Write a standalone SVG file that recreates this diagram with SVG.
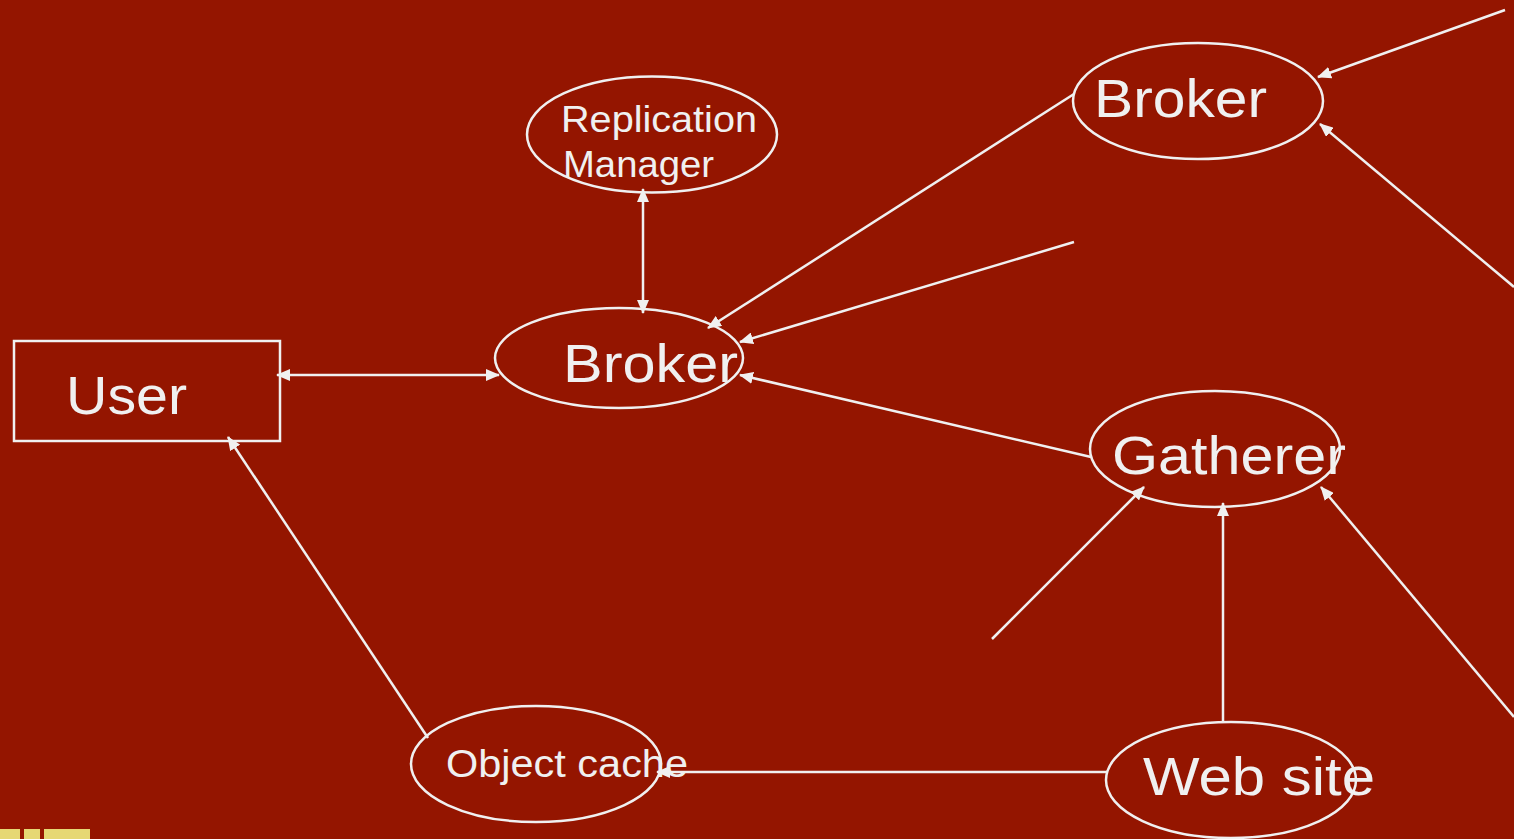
<svg xmlns="http://www.w3.org/2000/svg" width="1514" height="839" viewBox="0 0 1514 839">
<defs>
<style>
.n{fill:none;stroke:#f0f0f0;stroke-width:2.5}
.c{fill:none;stroke:#f0f0f0;stroke-width:2.5}
.t{fill:#f0f0f0;font-family:"Comic Sans MS","Liberation Sans",sans-serif}
</style>
<marker id="ah" viewBox="0 0 14 12" refX="13" refY="6" markerWidth="14" markerHeight="12" markerUnits="userSpaceOnUse" orient="auto-start-reverse">
<path d="M0,0 L14,6 L0,12 Z" fill="#f0f0f0"/>
</marker>
</defs>
<rect width="1514" height="839" fill="#941500"/>
<g id="deco" fill="#e6d874">
<rect x="0" y="829" width="20" height="10"/>
<rect x="24" y="829" width="16" height="10"/>
<rect x="44" y="829" width="46" height="10"/>
</g>
<g id="connectors">
<line class="c" x1="277" y1="375" x2="499" y2="375" marker-start="url(#ah)" marker-end="url(#ah)"/>
<line class="c" x1="643" y1="189" x2="643" y2="313" marker-start="url(#ah)" marker-end="url(#ah)"/>
<line class="c" x1="1074" y1="94" x2="708" y2="328" marker-end="url(#ah)"/>
<line class="c" x1="1074" y1="242" x2="740" y2="342" marker-end="url(#ah)"/>
<line class="c" x1="1091" y1="457" x2="740" y2="375" marker-end="url(#ah)"/>
<line class="c" x1="1505" y1="10" x2="1318" y2="77" marker-end="url(#ah)"/>
<line class="c" x1="1514" y1="287" x2="1320" y2="124" marker-end="url(#ah)"/>
<line class="c" x1="992" y1="639" x2="1144" y2="487" marker-end="url(#ah)"/>
<line class="c" x1="1223" y1="722" x2="1223" y2="503" marker-end="url(#ah)"/>
<line class="c" x1="1514" y1="717" x2="1321" y2="487" marker-end="url(#ah)"/>
<line class="c" x1="1107" y1="772" x2="657" y2="772" marker-end="url(#ah)"/>
<line class="c" x1="428" y1="738" x2="228" y2="437" marker-end="url(#ah)"/>
</g>
<g id="user">
<rect class="n" x="14" y="341" width="266" height="100"/>
<text class="t" x="66" y="414" font-size="54" textLength="121" lengthAdjust="spacingAndGlyphs">User</text>
</g>
<g id="broker-center">
<ellipse class="n" cx="619" cy="358" rx="124" ry="50"/>
<text class="t" x="563" y="382" font-size="54" textLength="175" lengthAdjust="spacingAndGlyphs">Broker</text>
</g>
<g id="replication-manager">
<ellipse class="n" cx="652" cy="134.5" rx="125" ry="58"/>
<text class="t" x="561" y="132" font-size="36" textLength="196" lengthAdjust="spacingAndGlyphs">Replication</text>
<text class="t" x="563" y="177" font-size="36" textLength="151" lengthAdjust="spacingAndGlyphs">Manager</text>
</g>
<g id="broker-top">
<ellipse class="n" cx="1198" cy="101" rx="125" ry="58"/>
<text class="t" x="1094" y="117" font-size="54" textLength="173" lengthAdjust="spacingAndGlyphs">Broker</text>
</g>
<g id="gatherer">
<ellipse class="n" cx="1215" cy="449" rx="125" ry="58"/>
<text class="t" x="1112" y="474" font-size="54" textLength="234" lengthAdjust="spacingAndGlyphs">Gatherer</text>
</g>
<g id="web-site">
<ellipse class="n" cx="1231" cy="780" rx="125" ry="58"/>
<text class="t" x="1143" y="795" font-size="54" textLength="232" lengthAdjust="spacingAndGlyphs">Web site</text>
</g>
<g id="object-cache">
<ellipse class="n" cx="536" cy="764" rx="125" ry="58"/>
<text class="t" x="446" y="777" font-size="38" textLength="242" lengthAdjust="spacingAndGlyphs">Object cache</text>
</g>
</svg>
